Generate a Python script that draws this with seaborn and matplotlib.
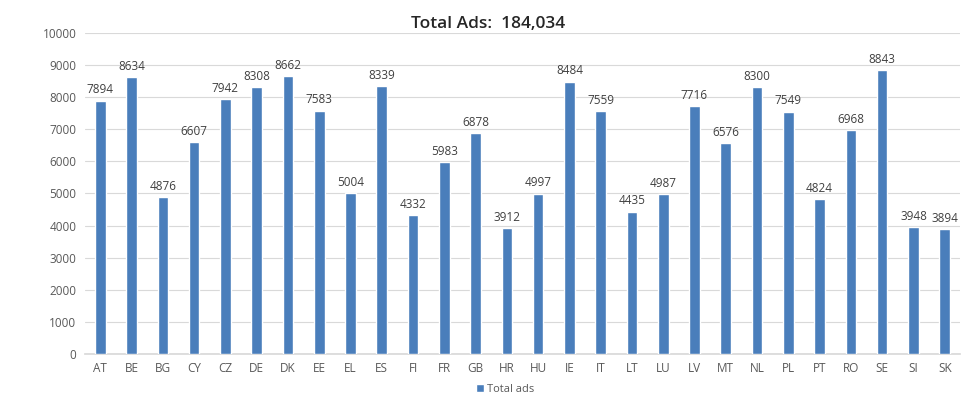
import pandas as pd
import matplotlib.pyplot as plt
import seaborn as sns

countries = ['AT', 'BE', 'BG', 'CY', 'CZ', 'DE', 'DK', 'EE', 'EL', 'ES', 'FI', 'FR', 'GB', 'HR',
             'HU', 'IE', 'IT', 'LT', 'LU', 'LV', 'MT', 'NL', 'PL', 'PT', 'RO', 'SE', 'SI', 'SK']
total_ads = [7894, 8634, 4876, 6607, 7942, 8308, 8662, 7583, 5004, 8339, 4332, 5983, 6878, 3912,
             4997, 8484, 7559, 4435, 4987, 7716, 6576, 8300, 7549, 4824, 6968, 8843, 3948, 3894]
y_ticks = list(range(0, 10001, 1000))

df = pd.DataFrame({'Country': countries, 'Total ads': total_ads})

sns.set_theme(style='white')
plt.rcParams['font.family'] = ['Open Sans', 'DejaVu Sans']

bar_color = '#4a7ebb'
text_color = '#595959'

fig = plt.figure(figsize=(9.73, 4.01), dpi=100)
ax = fig.add_axes([0.087, 0.117, 0.9, 0.801])

sns.barplot(data=df, x='Country', y='Total ads', color=bar_color, width=0.34,
            saturation=1, ax=ax, label='Total ads', zorder=3)

# value labels on top of the bars
for i, v in enumerate(total_ads):
    ax.text(i, v + 130, str(v), ha='center', va='bottom', fontsize=8.5, color='#404040')

ax.set_ylim(0, 10000)
ax.set_yticks(y_ticks)
ax.set_xlim(-0.5, len(countries) - 0.5)
ax.yaxis.grid(True, color='#d9d9d9', linewidth=0.8, zorder=0)
ax.set_axisbelow(True)
for side in ['top', 'right', 'left']:
    ax.spines[side].set_visible(False)
ax.spines['bottom'].set_color('#d9d9d9')
ax.tick_params(axis='both', length=0, labelsize=8.5, labelcolor=text_color, pad=6)
ax.set_xlabel('')
ax.set_ylabel('')

fig.suptitle('Total Ads:  184,034', x=0.502, y=0.96, fontsize=12.5, fontweight='semibold',
             color='#262626')

ax.legend(loc='upper center', bbox_to_anchor=(0.48, -0.085), frameon=False, fontsize=8,
          handlelength=0.7, handleheight=0.7, handletextpad=0.3, labelcolor=text_color,
          borderaxespad=0, borderpad=0.2)

fig.savefig('out.png', dpi=100)
